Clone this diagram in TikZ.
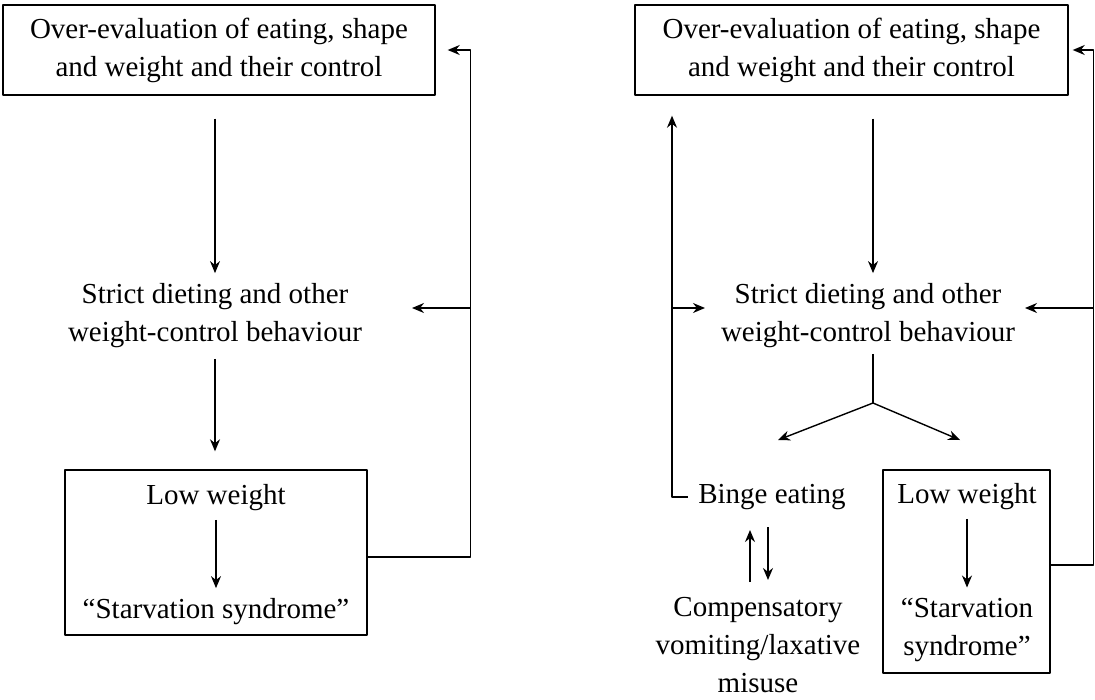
\documentclass[tikz,border=0pt]{standalone}
\usepackage{fontspec}
\setmainfont{Liberation Serif}
\usetikzlibrary{arrows.meta}
\begin{document}
\begin{tikzpicture}[x=1pt,y=-1pt,line join=round,>={Stealth[length=12pt,width=10pt]},line width=1.4pt,
  font=\fontsize{29}{38}\selectfont,
  txt/.style={align=center,inner sep=0pt},
  box/.style={draw,inner sep=0pt}]
\useasboundingbox (0,0) rectangle (1095,699);
% left model
\node[box,minimum width=432pt,minimum height=90pt] (ovL) at (219,50) {};
\node[txt] at (ovL) {Over-evaluation of eating, shape\\and weight and their control};
\node[txt] (sdL) at (215,316) {Strict dieting and other\\weight-control behaviour};
\node[box,minimum width=302pt,minimum height=165pt] (lwbL) at (216,552.5) {};
\node[txt] (lwL) at (216,498) {Low weight};
\node[txt] (ssL) at (216,612) {``Starvation syndrome''};
\coordinate (jL) at (470,308);
\coordinate (tL) at (412,308);
\draw[->,shorten <=23pt,shorten >=10pt] (sdL |- ovL.south) -- (sdL);
\draw[->,shorten <=10pt,shorten >=18pt] (sdL) -- (sdL |- lwbL.north);
\draw[->,shorten <=8pt,shorten >=10pt] (lwL) -- (ssL);
\draw[->,shorten >=12pt] ([yshift=-4.5pt]lwbL.east) -- ++(103,0) |- (ovL.east);
\draw[->] (jL) -- (tL);
% right model
\node[box,minimum width=433pt,minimum height=90pt] (ovR) at (851.5,50) {};
\node[txt] at (ovR) {Over-evaluation of eating, shape\\and weight and their control};
\node[txt] (sdR) at (868,316) {Strict dieting and other\\weight-control behaviour};
\node[txt] (beR) at (772,497) {Binge eating};
\node[txt] (coR) at (758,645) {Compensatory\\vomiting/laxative\\misuse};
\node[box,minimum width=167pt,minimum height=203pt] (lwbR) at (966.5,571.5) {};
\node[txt] (lwR) at (967,497) {Low weight};
\node[txt] (ssR) at (967,630) {``Starvation\\syndrome''};
\coordinate (fk) at (873,403);
\coordinate (fbL) at (778,440);
\coordinate (fbR) at (960,440);
\coordinate (cR) at (672,500);
\coordinate (jR1) at (672,308);
\coordinate (tR1) at (705,308);
\coordinate (jR2) at (1093,308);
\coordinate (tR2) at (1025,308);
\draw[->,shorten <=23pt,shorten >=10pt] (fk |- ovR.south) -- (fk |- sdR.north);
\draw[shorten <=5pt] (fk |- sdR.south) -- (fk);
\draw[->] (fk) -- (fbL);
\draw[->] (fk) -- (fbR);
\draw[->,shorten >=20pt] ([xshift=-10pt]beR.west) -| (ovR.south -| cR);
\draw[->] (jR1) -- (tR1);
\draw[->,shorten >=4pt] ([yshift=6.5pt]lwbR.east) -- ++(43,0) |- (ovR.east);
\draw[->] (jR2) -- (tR2);
\draw[->] (750,582) -- (750,530);
\draw[->] (768,527) -- (768,580);
\draw[->,shorten <=8pt,shorten >=10pt] (lwR) -- (lwR |- ssR.north);
\end{tikzpicture}
\end{document}
